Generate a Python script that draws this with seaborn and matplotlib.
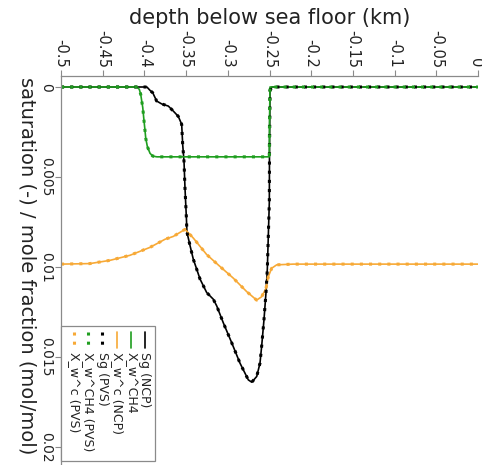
import matplotlib
matplotlib.use("Agg")
import matplotlib.pyplot as plt
import matplotlib.transforms as mtransforms
import seaborn as sns
from matplotlib.lines import Line2D
from matplotlib.patches import Rectangle

sns.set_style("white")
plt.rcParams["font.family"] = ["DejaVu Sans"]

# Gas saturation profile (km below sea floor, negative downward)
sg_depth = [-0.5, -0.397, -0.393, -0.390, -0.3853, -0.3793, -0.3713, -0.3653,
            -0.3594, -0.3553, -0.3541, -0.3525, -0.3513, -0.3496, -0.349,
            -0.3453, -0.3414, -0.3333, -0.3253, -0.3174, -0.3133, -0.3054,
            -0.2953, -0.2854, -0.2754, -0.2713, -0.2653, -0.2614, -0.2594,
            -0.2566, -0.2542, -0.2526, -0.2514, -0.2502, -0.2500, -0.2494,
            -0.247, 0.0]
sg_value = [0.0, 0.0, 0.0002, 0.00032, 0.00078, 0.00094, 0.00106, 0.00134,
            0.00163, 0.00207, 0.00319, 0.00414, 0.00565, 0.00733, 0.00806,
            0.00881, 0.00956, 0.01067, 0.01142, 0.01179, 0.01216, 0.0131,
            0.01421, 0.01534, 0.01627, 0.0164, 0.01608, 0.01534, 0.0144,
            0.01292, 0.01142, 0.01011, 0.00824, 0.00639, 0.0036, 0.0002,
            0.0, 0.0]

# Dissolved methane mole fraction
ch4_depth = [-0.5, -0.4092, -0.4061, -0.4044, -0.4032, -0.402, -0.4008,
             -0.3996, -0.3984, -0.3965, -0.3933, -0.39, -0.385, -0.2502,
             -0.2500, -0.2494, 0.0]
ch4_value = [0.0, 0.0, 0.00013, 0.00041, 0.00078, 0.00113, 0.00172, 0.00227,
             0.00284, 0.0033, 0.00368, 0.00384, 0.00388, 0.00388, 0.002,
             0.0, 0.0]

# Dissolved component mole fraction
c_depth = [-0.5, -0.4652, -0.4412, -0.4173, -0.3933, -0.3753, -0.3653,
           -0.3513, -0.3414, -0.3253, -0.3094, -0.2934, -0.2773, -0.2654,
           -0.2594, -0.2542, -0.2514, -0.2474, -0.2414, -0.2215, 0.0]
c_value = [0.00984, 0.00981, 0.00963, 0.00935, 0.00891, 0.00846, 0.0083,
           0.00791, 0.00839, 0.00931, 0.00997, 0.01062, 0.01137, 0.01184,
           0.01165, 0.01119, 0.01053, 0.01007, 0.00988, 0.00984, 0.00984]

x_ticks = [-0.5, -0.45, -0.4, -0.35, -0.3, -0.25, -0.2, -0.15, -0.1, -0.05, 0.0]
x_tick_labels = ["-0.5", "-0.45", "-0.4", "-0.35", "-0.3", "-0.25", "-0.2",
                 "-0.15", "-0.1", "-0.05", "0"]
y_ticks = [0.0, 0.005, 0.01, 0.015, 0.02]
y_tick_labels = ["0", "0.005", "0.01", "0.015", "0.02"]

legend_labels = ["Sg (NCP)", "X_w^CH4", "X_w^c (NCP)",
                 "Sg (PVS)", "X_w^CH4 (PVS)", "X_w^c (PVS)"]

BLACK = "#000000"
GREEN = "#1f9e1f"
ORANGE = "#f7a936"
TEXT = "#222222"
AXIS = "#8a8a8a"

W, H = 482, 465
fig = plt.figure(figsize=(W / 100, H / 100), dpi=100)
ax = fig.add_axes([61 / W, 0.0, (478 - 61) / W, (H - 76) / H])

solid = dict(lw=1.2, sort=False, estimator=None, legend=False)
dotted = dict(lw=2.2, sort=False, estimator=None, legend=False,
              linestyle=(0, (1, 2)), dash_capstyle="butt")

series = [(sg_depth, sg_value, BLACK), (ch4_depth, ch4_value, GREEN),
          (c_depth, c_value, ORANGE)]
for d, v, col in series:
    sns.lineplot(x=d, y=v, color=col, ax=ax, **solid)
for d, v, col in series:
    sns.lineplot(x=d, y=v, color=col, ax=ax, **dotted)

ax.set_xlim(-0.5, 0.0)
ax.set_ylim(0.0210, -0.000611)
ax.xaxis.tick_top()
ax.set_xticks(x_ticks)
ax.set_xticklabels(x_tick_labels)
ax.set_yticks(y_ticks)
ax.set_yticklabels(y_tick_labels)
ax.tick_params(axis="x", top=True, bottom=False, labelrotation=-90,
               length=4, width=0.8, color=AXIS, labelsize=10.5,
               labelcolor=TEXT, pad=2)
ax.tick_params(axis="y", left=True, labelrotation=-90, length=4, width=0.8,
               color=AXIS, labelsize=10, labelcolor=TEXT, pad=2)
for lbl in ax.get_yticklabels():
    lbl.set_va("center")
# keep the last depth label inside the canvas
last = ax.get_xticklabels()[-1]
last.set_transform(last.get_transform() +
                   mtransforms.ScaledTranslation(-3 / 100, 0,
                                                 fig.dpi_scale_trans))
for side in ["right", "bottom"]:
    ax.spines[side].set_visible(False)
for side in ["left", "top"]:
    ax.spines[side].set_color(AXIS)
    ax.spines[side].set_linewidth(0.9)
ax.set_xlabel("")
ax.set_ylabel("")

# axis titles
fig.text(269.5 / W, 1 - 18 / H, "depth below sea floor (km)", fontsize=15,
         color=TEXT, ha="center", va="center")
fig.text(27 / W, 1 - 266 / H, "saturation (-) / mole fraction (mol/mol)",
         fontsize=14, color=TEXT, ha="center", va="center", rotation=-90)

# legend drawn in pixel positions, rotated with the plot
def fx(px):
    return px / W


def fy(py):
    return 1 - py / H


fig.patches.append(Rectangle((fx(61), fy(461)), fx(155) - fx(61),
                             fy(326) - fy(461), transform=fig.transFigure,
                             facecolor="white", edgecolor=AXIS, lw=0.9,
                             zorder=5))
entry_x = [145, 131, 117, 102, 88, 74]
entry_col = [BLACK, GREEN, ORANGE, BLACK, GREEN, ORANGE]
entry_dot = [False, False, False, True, True, True]
for xp, lab, col, dot in zip(entry_x, legend_labels, entry_col, entry_dot):
    if dot:
        ln = Line2D([fx(xp), fx(xp)], [fy(332), fy(348)], color=col, lw=2.2,
                    linestyle=(0, (1, 2)), dash_capstyle="butt",
                    transform=fig.transFigure, zorder=6)
    else:
        ln = Line2D([fx(xp), fx(xp)], [fy(332), fy(348)], color=col, lw=1.2,
                    transform=fig.transFigure, zorder=6)
    fig.lines.append(ln)
    fig.text(fx(xp), fy(352), lab, fontsize=9, color=TEXT, rotation=-90,
             ha="center", va="top", zorder=6)

fig.savefig("out.png", dpi=100)
